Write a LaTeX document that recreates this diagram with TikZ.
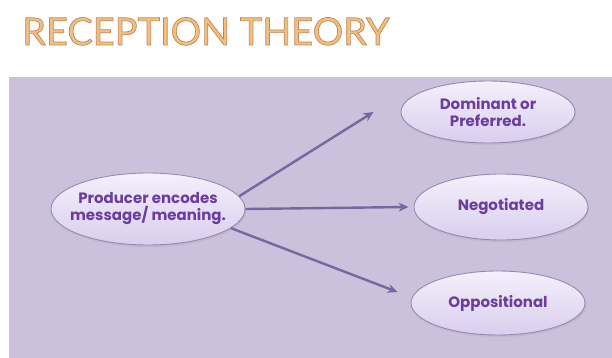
\documentclass[tikz,border=0pt]{standalone}
\usepackage{fontspec}
\setmainfont{Lato}
\newfontfamily\ovalfont{Poppins}
\usetikzlibrary{arrows.meta, positioning, shapes.geometric, shadows}
\definecolor{cpanel}{HTML}{CCC1DD}
\definecolor{cedge}{HTML}{948AAE}
\definecolor{ctop}{HTML}{F4F0FB}
\definecolor{cbot}{HTML}{D9CEEE}
\definecolor{ctext}{HTML}{6A3D9E}
\definecolor{carrow}{HTML}{76689C}
\definecolor{ctitle}{HTML}{F2BE82}
% outlined letters for the heading
\newcommand\outlined[1]{\special{pdf:literal direct 2 Tr 0.7 w 0.76 0.53 0.33 RG}#1\special{pdf:literal direct 0 Tr}}
\tikzset{
  every picture/.style={x=1pt, y=-1pt},
  oval/.style={ellipse, draw=cedge, line width=0.9pt, top color=ctop, bottom color=cbot,
    minimum width=174pt, minimum height=64pt, inner xsep=-12pt, inner ysep=0pt, align=center,
    font=\ovalfont\bfseries\fontsize{15}{17}\selectfont, text=ctext,
    drop shadow={opacity=0.15, shadow xshift=1pt, shadow yshift=-2pt}},
  arrow/.style={-{Stealth[length=10pt, width=9pt]}, draw=carrow, line width=2.4pt},
  title/.style={font=\fontsize{38}{40}\selectfont, text=ctitle, anchor=base west, inner sep=0pt},
}
\begin{document}
\begin{tikzpicture}
  \useasboundingbox (0,0) rectangle (612,358);
  \node[title] (head) at (22,45) {\outlined{RECEPTION THEORY}};
  \fill[cpanel] (9,77) rectangle (612,358);
  \node[oval, minimum width=194pt, minimum height=72pt] (prod) at (148,209) {Producer encodes\\message/ meaning.};
  \node[oval, minimum height=62pt] (dom) at (488,112) {Dominant or\\Preferred.};
  \node[oval, minimum height=66pt] (neg) at (501,207) {Negotiated};
  \node[oval] (opp) at (498,303) {Oppositional};
  \draw[arrow] (prod.8) -- ([xshift=-27pt]dom.west);
  \draw[arrow] (prod.east) -- ([xshift=-5pt]neg.west);
  \draw[arrow] (prod.-13) -- ([xshift=-13pt, yshift=11pt]opp.west);
\end{tikzpicture}
\end{document}
